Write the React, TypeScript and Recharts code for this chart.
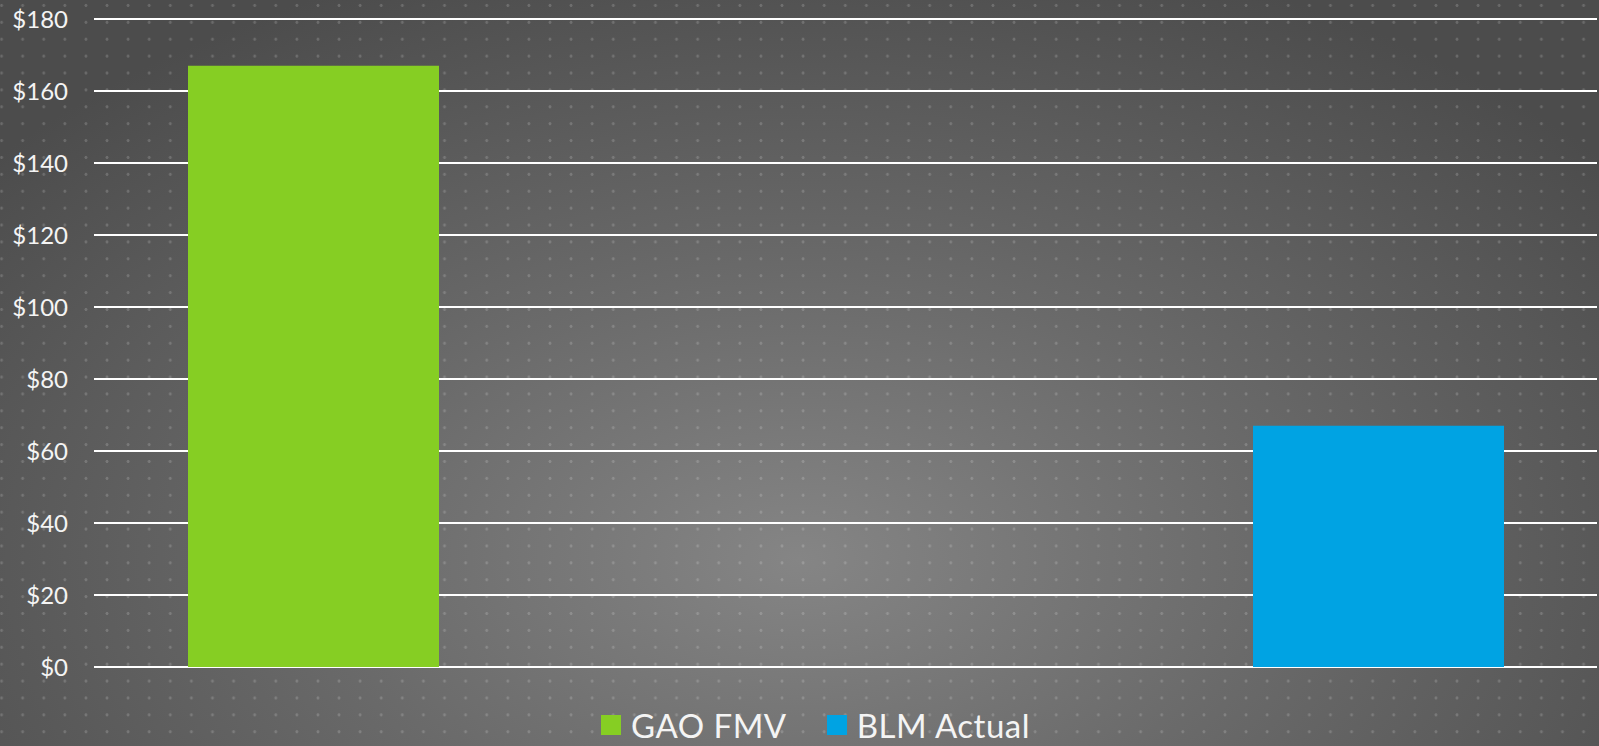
import React from 'react';
import { BarChart, Bar, XAxis, YAxis, CartesianGrid, Legend } from 'recharts';

const categories = ['Value'];
const gaoFmv = [167];
const blmActual = [67];
const yTicks = [0, 20, 40, 60, 80, 100, 120, 140, 160, 180];

const seriesInfo = [
  { key: 'gao', name: 'GAO FMV', color: '#86CE23' },
  { key: 'blm', name: 'BLM Actual', color: '#00A3E3' },
];

const data = categories.map((c, i) => ({ name: c, gao: gaoFmv[i], blm: blmActual[i] }));

const W = 1599;
const H = 746;

const LegendContent = () => (
  <div
    style={{
      height: 79,
      boxSizing: 'border-box',
      paddingTop: 39,
      paddingLeft: 34,
      display: 'flex',
      justifyContent: 'center',
      alignItems: 'flex-start',
      fontFamily: 'Lato, sans-serif',
      fontSize: 33,
      color: '#f4f4f4',
    }}
  >
    {seriesInfo.map((s, i) => (
      <div
        key={s.key}
        style={{ display: 'flex', alignItems: 'center', marginLeft: i ? 40 : 0, lineHeight: '38px' }}
      >
        <span style={{ width: 20, height: 20, background: s.color, marginRight: 10, display: 'inline-block' }} />
        <span style={{ letterSpacing: 0.5 }}>{s.name}</span>
      </div>
    ))}
  </div>
);

export default function App() {
  return (
    <div
      style={{
        position: 'fixed',
        left: 0,
        top: 0,
        width: W,
        height: H,
        backgroundColor: '#5a5a5a',
        backgroundImage:
          'radial-gradient(circle, rgba(255,255,255,0.17) 1.2px, rgba(255,255,255,0) 1.8px), radial-gradient(ellipse 65% 85% at 50% 75%, #858585 0%, #6a6a6a 45%, #4c4c4c 100%)',
        backgroundSize: '21.1px 16.9px, 100% 100%',
        backgroundPosition: '-9px -3px, 0 0',
      }}
    >
      <BarChart
        width={W}
        height={H}
        data={data}
        margin={{ top: 19, right: 2, left: 0, bottom: 0 }}
        barSize={251}
        barGap={814}
      >
        <CartesianGrid vertical={false} stroke="#ffffff" strokeWidth={2} />
        <XAxis dataKey="name" hide />
        <YAxis
          domain={[0, 180]}
          ticks={yTicks}
          interval={0}
          width={94}
          axisLine={false}
          tickLine={false}
          tickSize={0}
          tickMargin={26}
          tickFormatter={(v: number) => `$${v}`}
          tick={{ fontSize: 24, fill: '#f4f4f4', fontFamily: 'Lato, sans-serif' }}
        />
        <Legend verticalAlign="bottom" height={79} content={<LegendContent />} />
        {seriesInfo.map((s) => (
          <Bar key={s.key} dataKey={s.key} name={s.name} fill={s.color} isAnimationActive={false} />
        ))}
      </BarChart>
    </div>
  );
}
